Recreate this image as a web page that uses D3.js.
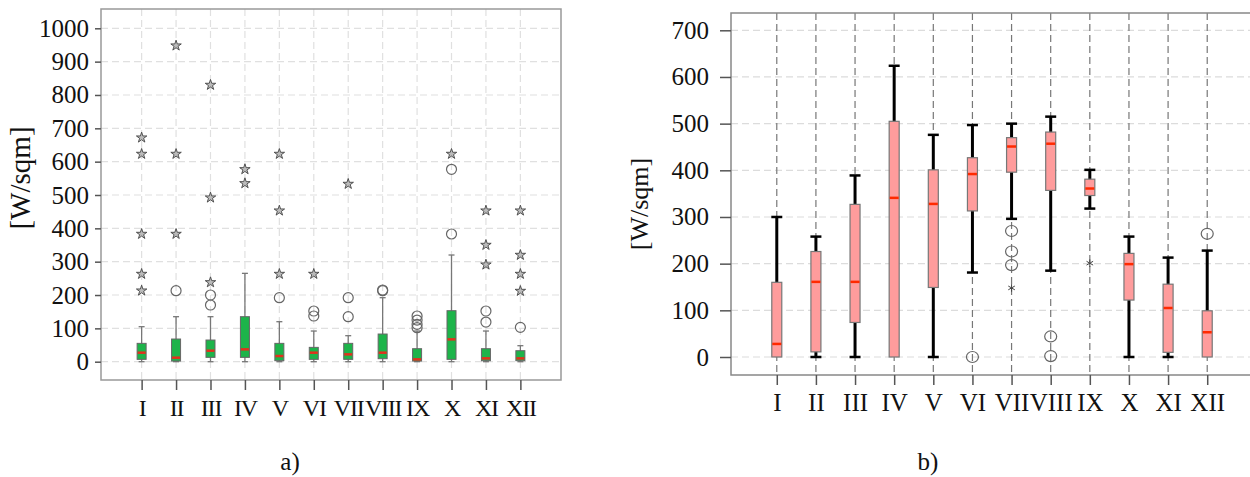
<!DOCTYPE html>
<html>
<head>
<meta charset="utf-8">
<script src="https://cdn.jsdelivr.net/npm/d3@7"></script>
<style>
  body { margin: 0; background: #fff; }
  svg text { font-family: "Liberation Serif", "DejaVu Serif", serif; fill: #111; }
</style>
</head>
<body>
<div id="chart"></div>
<script>
var svgWidth = 1250;
var svgHeight = 477;

// Month categories (shared by both panels)
var months = ["I", "II", "III", "IV", "V", "VI", "VII", "VIII", "IX", "X", "XI", "XII"];

// Panel a) box statistics [W/sqm]
var aLow = [0, 0, 0, 0, 0, 0, 0, 0, 0, 0, 0, 0];
var aQ1 = [7, 2, 13, 13, 3, 7, 7, 9, 2, 7, 3, 3];
var aMedian = [27, 12, 33, 37, 17, 27, 22, 27, 7, 67, 10, 10];
var aQ3 = [55, 68, 65, 135, 55, 43, 55, 83, 39, 153, 39, 33];
var aHigh = [105, 135, 135, 265, 120, 92, 78, 192, 92, 320, 92, 48];
var aCircles = [[], [213], [200, 170], [], [192], [152, 137], [192, 135], [213, 215], [137, 125, 112, 102], [383, 577], [152, 119], [103]];
var aStars = [[672, 623, 383, 263, 213], [948, 623, 383], [830, 492, 238], [577, 535], [623, 453, 263], [263], [533], [], [], [623], [453, 350, 291], [453, 320, 263, 212]];
var aTicks = d3.range(0, 1001, 100);

// Panel b) box statistics [W/sqm]
var bLow = [0, 0, 0, 0, 0, 181, 296, 185, 318, 0, 0, 0];
var bQ1 = [0, 11, 74, 0, 149, 313, 396, 357, 346, 122, 10, 0];
var bMedian = [28, 161, 161, 341, 328, 392, 451, 457, 361, 199, 105, 53];
var bQ3 = [160, 226, 327, 505, 401, 427, 470, 482, 381, 222, 156, 99];
var bHigh = [300, 258, 389, 624, 476, 497, 500, 515, 401, 258, 213, 228];
var bCircles = [[], [], [], [], [], [0], [270, 226, 197], [44, 2], [], [], [], [264]];
var bStars = [[], [], [], [], [], [], [148], [], [201], [], [], []];
var bTicks = d3.range(0, 701, 100);

var svg = d3.select("#chart")
    .append("svg")
    .attr("width", svgWidth)
    .attr("height", svgHeight);

// ---------- panel a) ----------
var a = { left: 101, right: 561, top: 9, bottom: 380 };

var ax = d3.scalePoint().domain(months).range([a.left, a.right]).padding(1.18);
var ay = d3.scaleLinear().domain([0, 1000]).range([361.7, 28.3]);

var ga = svg.append("g");

// grid
ga.selectAll("line.hgrid").data(aTicks).enter().append("line")
    .attr("x1", a.left).attr("x2", a.right)
    .attr("y1", d => ay(d)).attr("y2", d => ay(d))
    .attr("stroke", "#e0e0e0").attr("stroke-width", 1.2).attr("stroke-dasharray", "7,4");
ga.selectAll("line.vgrid").data(months).enter().append("line")
    .attr("x1", d => ax(d)).attr("x2", d => ax(d))
    .attr("y1", a.top).attr("y2", a.bottom)
    .attr("stroke", "#e0e0e0").attr("stroke-width", 1.2).attr("stroke-dasharray", "7,4");

ga.append("rect")
    .attr("x", a.left).attr("y", a.top)
    .attr("width", a.right - a.left).attr("height", a.bottom - a.top)
    .attr("fill", "none").attr("stroke", "#999").attr("stroke-width", 1.5);

// axes
var aLeftAxis = ga.append("g")
    .attr("transform", `translate(${a.left},0)`)
    .call(d3.axisLeft(ay).tickValues(aTicks).tickFormat(d3.format("d")).tickSize(6).tickPadding(6));
var aBottomAxis = ga.append("g")
    .attr("transform", `translate(0,${a.bottom})`)
    .call(d3.axisBottom(ax).tickSize(10).tickPadding(9));
[aLeftAxis, aBottomAxis].forEach(function (g) {
    g.select(".domain").remove();
    g.selectAll(".tick line").attr("stroke", "#555").attr("stroke-width", 1.5);
    g.selectAll("text").attr("font-size", 25).attr("font-family", "Liberation Serif").attr("fill", "#111");
});
// month labels sit tight together in panel a)
aBottomAxis.selectAll("text").attr("font-size", 24).attr("letter-spacing", -1.2);

ga.append("text")
    .attr("transform", "translate(30,178) rotate(-90)")
    .attr("text-anchor", "middle")
    .attr("font-size", 29)
    .text("[W/sqm]");

// boxes
var aBox = 9;
months.forEach(function (m, i) {
    var cx = ax(m);
    var g = ga.append("g");
    g.append("line").attr("x1", cx).attr("x2", cx).attr("y1", ay(aLow[i])).attr("y2", ay(aHigh[i]))
        .attr("stroke", "#777").attr("stroke-width", 1.3);
    [aLow[i], aHigh[i]].forEach(function (v) {
        g.append("line").attr("x1", cx - 3).attr("x2", cx + 3).attr("y1", ay(v)).attr("y2", ay(v))
            .attr("stroke", "#777").attr("stroke-width", 1.3);
    });
    g.append("rect").attr("x", cx - aBox / 2).attr("width", aBox)
        .attr("y", ay(aQ3[i])).attr("height", ay(aQ1[i]) - ay(aQ3[i]))
        .attr("fill", "#1db44a").attr("stroke", "#666").attr("stroke-width", 1);
    g.append("line").attr("x1", cx - aBox / 2 + 0.5).attr("x2", cx + aBox / 2 - 0.5)
        .attr("y1", ay(aMedian[i])).attr("y2", ay(aMedian[i]))
        .attr("stroke", "#e3301c").attr("stroke-width", 2.5);
    aCircles[i].forEach(function (v) {
        g.append("circle").attr("cx", cx).attr("cy", ay(v)).attr("r", 5)
            .attr("fill", "none").attr("stroke", "#666").attr("stroke-width", 1.2);
    });
    aStars[i].forEach(function (v) {
        g.append("path").attr("d", d3.symbol(d3.symbolStar, 34)())
            .attr("transform", `translate(${cx},${ay(v)})`)
            .attr("fill", "#bbb").attr("stroke", "#444").attr("stroke-width", 0.9);
    });
});

svg.append("text").attr("x", 290).attr("y", 470).attr("text-anchor", "middle")
    .attr("font-size", 25).text("a)");

// ---------- panel b) ----------
var b = { left: 731, right: 1253, top: 13, bottom: 375 };

var bx = d3.scalePoint().domain(months).range([b.left, b.right]).padding(1.17);
var by = d3.scaleLinear().domain([0, 700]).range([357, 30.3]);

var gb = svg.append("g");

gb.selectAll("line.hgrid").data(bTicks).enter().append("line")
    .attr("x1", b.left).attr("x2", 1250)
    .attr("y1", d => by(d)).attr("y2", d => by(d))
    .attr("stroke", "#dcdcdc").attr("stroke-width", 1.2).attr("stroke-dasharray", "7,4");
gb.selectAll("line.vgrid").data(months).enter().append("line")
    .attr("x1", d => bx(d)).attr("x2", d => bx(d))
    .attr("y1", b.top).attr("y2", b.bottom)
    .attr("stroke", "#777").attr("stroke-width", 1.2).attr("stroke-dasharray", "7,4");

gb.append("path")
    .attr("d", `M1250,${b.top}H${b.left}V${b.bottom}H1250`)
    .attr("fill", "none").attr("stroke", "#888").attr("stroke-width", 1.5);

var bLeftAxis = gb.append("g")
    .attr("transform", `translate(${b.left},0)`)
    .call(d3.axisLeft(by).tickValues(bTicks).tickFormat(d3.format("d")).tickSize(11).tickPadding(11));
var bBottomAxis = gb.append("g")
    .attr("transform", `translate(0,${b.bottom})`)
    .call(d3.axisBottom(bx).tickSize(10).tickPadding(8));
[bLeftAxis, bBottomAxis].forEach(function (g) {
    g.select(".domain").remove();
    g.selectAll(".tick line").attr("stroke", "#555").attr("stroke-width", 1.5);
    g.selectAll("text").attr("font-size", 25).attr("font-family", "Liberation Serif").attr("fill", "#111");
});

gb.append("text")
    .attr("transform", "translate(648,204) rotate(-90)")
    .attr("text-anchor", "middle")
    .attr("font-size", 26)
    .text("[W/sqm]");

var bBox = 10;
months.forEach(function (m, i) {
    var cx = bx(m);
    var g = gb.append("g");
    g.append("line").attr("x1", cx).attr("x2", cx).attr("y1", by(bLow[i])).attr("y2", by(bHigh[i]))
        .attr("stroke", "#000").attr("stroke-width", 3);
    if (bLow[i] < bQ1[i]) {
        g.append("line").attr("x1", cx - 5.5).attr("x2", cx + 5.5).attr("y1", by(bLow[i])).attr("y2", by(bLow[i]))
            .attr("stroke", "#000").attr("stroke-width", 2.5);
    }
    g.append("line").attr("x1", cx - 5.5).attr("x2", cx + 5.5).attr("y1", by(bHigh[i])).attr("y2", by(bHigh[i]))
        .attr("stroke", "#000").attr("stroke-width", 2.5);
    g.append("rect").attr("x", cx - bBox / 2).attr("width", bBox)
        .attr("y", by(bQ3[i])).attr("height", by(bQ1[i]) - by(bQ3[i]))
        .attr("fill", "#ff9c9c").attr("stroke", "#777").attr("stroke-width", 1.2);
    g.append("line").attr("x1", cx - bBox / 2 + 0.5).attr("x2", cx + bBox / 2 - 0.5)
        .attr("y1", by(bMedian[i])).attr("y2", by(bMedian[i]))
        .attr("stroke", "#ff2a00").attr("stroke-width", 2.5);
    bCircles[i].forEach(function (v) {
        g.append("ellipse").attr("cx", cx).attr("cy", by(v)).attr("rx", 6).attr("ry", 5.5)
            .attr("fill", "none").attr("stroke", "#666").attr("stroke-width", 1.2);
    });
    bStars[i].forEach(function (v) {
        g.append("path").attr("d", d3.symbol(d3.symbolAsterisk, 40)())
            .attr("transform", `translate(${cx},${by(v)})`)
            .attr("fill", "none").attr("stroke", "#444").attr("stroke-width", 1);
    });
});

svg.append("text").attr("x", 928).attr("y", 470).attr("text-anchor", "middle")
    .attr("font-size", 25).text("b)");
</script>
</body>
</html>
